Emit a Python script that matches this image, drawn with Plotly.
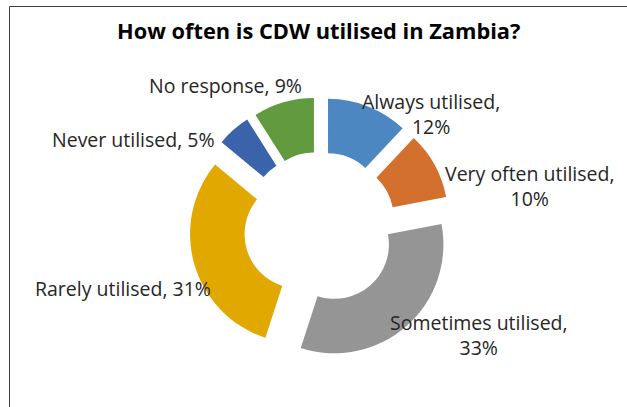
import plotly.graph_objects as go

# Survey responses, in clockwise order from 12 o'clock
categories = ["Always utilised", "Very often utilised", "Sometimes utilised",
              "Rarely utilised", "Never utilised", "No response"]
shares = [12, 10, 33, 31, 5, 9]
colors = ["#4d87c1", "#d4702d", "#959595", "#e1a800", "#3b63ac", "#619a3f"]

W, H = 627, 407
cx, cy = 320, 228          # donut centre, px from top-left
R = 109                    # outer radius, px
pull = 0.2
half = R * (1 + pull)

FONT = "Open Sans, Liberation Sans, Arial, sans-serif"

fig = go.Figure(go.Pie(
    labels=categories,
    values=shares,
    sort=False,
    direction="clockwise",
    rotation=0,
    hole=0.5,
    pull=[pull] * len(shares),
    marker=dict(colors=colors, line=dict(width=0)),
    textinfo="none",
    hoverinfo="label+percent",
    showlegend=False,
    domain=dict(x=[(cx - half) / W, (cx + half) / W],
                y=[(H - cy - half) / H, (H - cy + half) / H]),
))

# Data labels: "category, value%" placed around the ring
label_pos = {
    "Always utilised": (431, 114, True),
    "Very often utilised": (530, 186, True),
    "Sometimes utilised": (479, 335, True),
    "Rarely utilised": (123, 288, False),
    "Never utilised": (133, 139, False),
    "No response": (226, 86, False),
}
annotations = []
for cat, val in zip(categories, shares):
    x, y, wrap = label_pos[cat]
    txt = f"{cat},<br>{val}%" if wrap else f"{cat}, {val}%"
    annotations.append(dict(
        x=x / W, y=1 - y / H, xref="paper", yref="paper",
        text=txt, showarrow=False, align="center",
        xanchor="center", yanchor="middle",
        font=dict(family=FONT, size=19.5, color="#262626"),
    ))

annotations.append(dict(
    x=318 / W, y=1 - 30 / H, xref="paper", yref="paper",
    text="<b>How often is CDW utilised in Zambia?</b>", showarrow=False,
    xanchor="center", yanchor="middle",
    font=dict(family=FONT, size=21.8, color="#000000"),
))

# Chart frame (left and top edges)
shapes = [
    dict(type="line", xref="paper", yref="paper",
         x0=9.5 / W, x1=9.5 / W, y0=0, y1=1 - 6.5 / H,
         line=dict(color="#404040", width=1)),
    dict(type="line", xref="paper", yref="paper",
         x0=9.5 / W, x1=1, y0=1 - 6.5 / H, y1=1 - 6.5 / H,
         line=dict(color="#404040", width=1)),
]

fig.update_layout(
    width=W, height=H,
    margin=dict(l=0, r=0, t=0, b=0),
    paper_bgcolor="white",
    plot_bgcolor="white",
    annotations=annotations,
    shapes=shapes,
)

fig.write_html("out.html")
